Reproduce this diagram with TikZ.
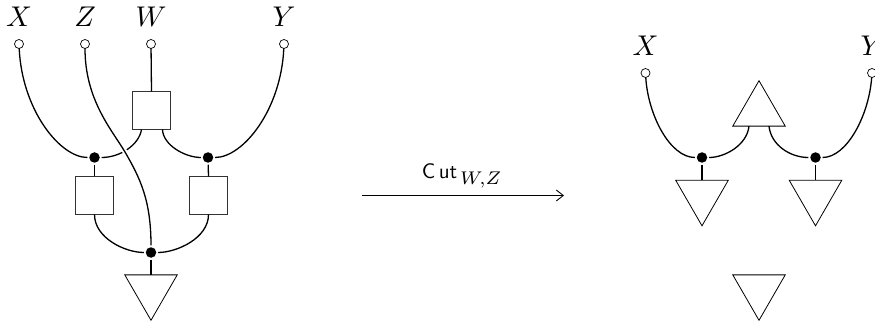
\documentclass[tikz,border=0pt]{standalone}
\usetikzlibrary{shapes.geometric,arrows.meta}
\tikzset{
  wire/.style={line width=1.3pt,black},
  openpt/.style={circle,draw=black,fill=white,line width=0.7pt,minimum size=9pt,inner sep=0pt,outer sep=0pt},
  dotpt/.style={circle,fill=black,minimum size=10.5pt,inner sep=0pt,outer sep=1.8pt},
  boxn/.style={rectangle,draw=black!80,fill=white,line width=0.8pt,minimum size=38pt,inner sep=0pt,outer sep=0pt},
  triup/.style={regular polygon,regular polygon sides=3,draw=black,fill=white,line width=0.8pt,minimum size=60.6pt,inner sep=0pt,outer sep=0pt},
  tridown/.style={triup,shape border rotate=180},
  lab/.style={scale=2.85,inner sep=0pt},
  sublab/.style={scale=2.1,inner sep=0pt}
}
\begin{document}
\begin{tikzpicture}[x=1pt,y=-1pt]
\useasboundingbox (0,0) rectangle (875,323);
% left diagram
\node[lab] (lX) at (19,17) {$X$};
\node[lab] (lZ) at (85,17) {$Z$};
\node[lab] (lW) at (151,17) {$W$};
\node[lab] (lY) at (284,17) {$Y$};
\node[openpt] (oX) at (19,44) {};
\node[openpt] (oZ) at (85,44) {};
\node[openpt] (oW) at (151,44) {};
\node[openpt] (oY) at (284,44) {};
\node[boxn] (bW) at (151.5,110.5) {};
\node[boxn] (bL) at (94.5,195.5) {};
\node[boxn] (bR) at (208.5,195.5) {};
\node[dotpt] (dL) at (94.5,157.5) {};
\node[dotpt] (dR) at (208,157.5) {};
\node[dotpt] (dB) at (151,252.5) {};
\node[tridown] (tB) at (151,290) {};
\draw[wire] (oW) -- (bW.north);
\draw[wire] (oX) .. controls (22,110) and (60,157.5) .. (dL);
\draw[wire] (oY) .. controls (281,110) and (243,157.5) .. (dR);
\draw[wire] ([xshift=-10pt]bW.south) .. controls (139,145) and (120,157.5) .. (dL);
\draw[wire] ([xshift=11pt]bW.south) .. controls (163,145) and (185,157.5) .. (dR);
\draw[wire] (dL) -- (bL.north);
\draw[wire] (dR) -- (bR.north);
\draw[wire] (bL.south) .. controls (94.5,238) and (125,252.5) .. (dB);
\draw[wire] (bR.south) .. controls (208.5,238) and (177,252.5) .. (dB);
\draw[white,line width=5pt] (113,130) .. controls (118,137) and (121,145) .. (125,152) .. controls (128,157) and (131,162) .. (134,167);
\draw[wire] (oZ) .. controls (85,100) and (112,130) .. (125,152) .. controls (140,178) and (151,200) .. (dB);
\draw[wire] (dB) -- (tB.north);
% arrow
\coordinate (aS) at (362,195.5);
\coordinate (aE) at (564,195.5);
\draw[line width=0.9pt,-{Straight Barb[length=7pt,width=11pt]}] (aS) -- (aE);
\node[sublab] (cut) at (462,176) {$\mathsf{C\,ut}_{\,\scalebox{1.25}{$\scriptstyle W,Z$}}$};
% right diagram
\node[lab] (rX) at (645.5,46) {$X$};
\node[lab] (rY) at (872,46) {$Y$};
\node[openpt] (oX2) at (645.5,73) {};
\node[openpt] (oY2) at (872,73) {};
\node[dotpt] (dL2) at (702,157.5) {};
\node[dotpt] (dR2) at (815.5,157.5) {};
\node[triup] (tU) at (759,111) {};
\node[tridown] (tL) at (702,195.5) {};
\node[tridown] (tR) at (815.5,195.5) {};
\node[tridown] (tB2) at (759,290) {};
\draw[wire] (oX2) .. controls (648,115) and (670,157.5) .. (dL2);
\draw[wire] (oY2) .. controls (869,115) and (847,157.5) .. (dR2);
\draw[wire] ([xshift=-10pt]tU.south) .. controls (747,145) and (725,157.5) .. (dL2);
\draw[wire] ([xshift=10pt]tU.south) .. controls (771,145) and (790,157.5) .. (dR2);
\draw[wire] (dL2) -- (tL.north);
\draw[wire] (dR2) -- (tR.north);
\end{tikzpicture}
\end{document}
